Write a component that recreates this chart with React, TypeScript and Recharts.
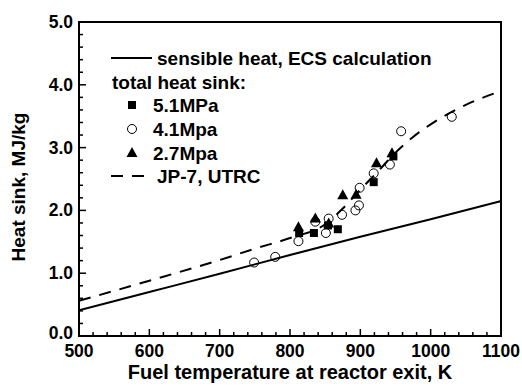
import { ComposedChart, Line, Scatter, XAxis, YAxis, ReferenceArea } from 'recharts'

// sensible heat, ECS calculation (solid)
const sensibleT = [500, 600, 700, 800, 900, 1000, 1100]
const sensibleQ = [0.41, 0.7, 0.99, 1.29, 1.58, 1.86, 2.15]

// JP-7, UTRC (dashed)
const jp7T = [500, 600, 700, 750, 800, 850, 875, 900, 925, 950, 975, 1000, 1050, 1100]
const jp7Q = [0.56, 0.88, 1.21, 1.39, 1.56, 1.78, 2.03, 2.33, 2.62, 2.92, 3.17, 3.37, 3.68, 3.9]

// total heat sink measurements
const p51T = [813, 834, 854, 868, 919, 947]
const p51Q = [1.64, 1.64, 1.76, 1.7, 2.45, 2.86]
const p41T = [749, 779, 812, 836, 851, 855, 874, 893, 898, 899, 919, 942, 958, 1030]
const p41Q = [1.17, 1.26, 1.51, 1.82, 1.64, 1.87, 1.93, 2.0, 2.08, 2.36, 2.59, 2.73, 3.26, 3.49]
const p27T = [812, 836, 855, 875, 894, 923, 945]
const p27Q = [1.73, 1.87, 1.79, 2.24, 2.25, 2.75, 2.91]

const xLabels = [500, 600, 700, 800, 900, 1000, 1100]
const xTicks = [500, 520, 540, 560, 580, 600, 620, 640, 660, 680, 700, 720, 740, 760, 780, 800, 820, 840, 860, 880, 900, 920, 940, 960, 980, 1000, 1020, 1040, 1060, 1080, 1100]
const yTicks = [0, 0.2, 0.4, 0.6, 0.8, 1, 1.2, 1.4, 1.6, 1.8, 2, 2.2, 2.4, 2.6, 2.8, 3, 3.2, 3.4, 3.6, 3.8, 4, 4.2, 4.4, 4.6, 4.8, 5]

const toPoints = (ts: number[], qs: number[]) => ts.map((t, i) => ({ t, q: qs[i] }))

const FONT = '"Liberation Sans", Arial, sans-serif'

function XTick(props: any) {
  const { x, y, payload } = props
  const major = xLabels.includes(payload.value)
  return (
    <g>
      <line x1={x} x2={x} y1={y} y2={y - (major ? 7 : 4)} stroke="#000" strokeWidth={1.5} />
      {major && (
        <text x={x} y={y + 21} textAnchor="middle" fontFamily={FONT} fontWeight="bold" fontSize={17.5} fill="#000">
          {payload.value}
        </text>
      )}
    </g>
  )
}

function YTick(props: any) {
  const { x, y, payload } = props
  const major = Math.abs(payload.value - Math.round(payload.value)) < 1e-6
  const dy = payload.value === 0 ? 3 : 6
  return (
    <g>
      <line x1={x} x2={x + (major ? 7 : 4)} y1={y} y2={y} stroke="#000" strokeWidth={1.5} />
      {major && (
        <text x={x - 6} y={y + dy} textAnchor="end" fontFamily={FONT} fontWeight="bold" fontSize={17.5} fill="#000">
          {Number(payload.value).toFixed(1)}
        </text>
      )}
    </g>
  )
}

const Square = ({ cx, cy }: any) => <rect x={cx - 4} y={cy - 4} width={8} height={8} fill="#000" />
const Circle = ({ cx, cy }: any) => <circle cx={cx} cy={cy} r={4.5} fill="none" stroke="#000" strokeWidth={1} />
const Triangle = ({ cx, cy }: any) => (
  <polygon points={`${cx},${cy - 6} ${cx - 5.5},${cy + 4} ${cx + 5.5},${cy + 4}`} fill="#000" />
)

function LegendBox() {
  const txt = { fontFamily: FONT, fontWeight: 'bold' as const, fontSize: 19, fill: '#000' }
  return (
    <svg width={522} height={389} style={{ position: 'absolute', left: 0, top: 0, pointerEvents: 'none' }}>
      <line x1={111} x2={152} y1={58} y2={58} stroke="#000" strokeWidth={2} />
      <text x={157} y={65} {...txt}>sensible heat, ECS calculation</text>
      <text x={112} y={89} {...txt}>total heat sink:</text>
      <Square cx={132} cy={105} />
      <text x={153} y={112} {...txt}>5.1MPa</text>
      <Circle cx={132} cy={129} />
      <text x={153} y={136} {...txt}>4.1Mpa</text>
      <Triangle cx={132} cy={153} />
      <text x={153} y={160} {...txt}>2.7Mpa</text>
      <line x1={111} x2={152} y1={176} y2={176} stroke="#000" strokeWidth={2} strokeDasharray="12 9" />
      <text x={157} y={183} {...txt}>JP-7, UTRC</text>
    </svg>
  )
}

export default function App() {
  return (
    <div style={{ position: 'absolute', left: 0, top: 0, width: 522, height: 389, background: '#fff' }}>
      <ComposedChart width={522} height={389} margin={{ top: 22, right: 21, bottom: 0, left: 0 }}>
        <XAxis
          type="number"
          dataKey="t"
          domain={[500, 1100]}
          ticks={xTicks}
          interval={0}
          height={53}
          tickSize={0}
          tickMargin={0}
          axisLine={{ stroke: '#000', strokeWidth: 2 }}
          tick={XTick}
          allowDataOverflow
        />
        <YAxis
          type="number"
          dataKey="q"
          domain={[0, 5]}
          ticks={yTicks}
          interval={0}
          width={79}
          tickSize={0}
          tickMargin={0}
          axisLine={{ stroke: '#000', strokeWidth: 2 }}
          tick={YTick}
          allowDataOverflow
        />
        <ReferenceArea x1={500} x2={1100} y1={0} y2={5} fill="none" stroke="#000" strokeWidth={2} />
        <Line data={toPoints(sensibleT, sensibleQ)} dataKey="q" type="monotone" stroke="#000" strokeWidth={2} dot={false} isAnimationActive={false} />
        <Line data={toPoints(jp7T, jp7Q)} dataKey="q" type="monotone" stroke="#000" strokeWidth={2} strokeDasharray="12 9" dot={false} isAnimationActive={false} />
        <Scatter data={toPoints(p51T, p51Q)} dataKey="q" shape={<Square />} isAnimationActive={false} />
        <Scatter data={toPoints(p41T, p41Q)} dataKey="q" shape={<Circle />} isAnimationActive={false} />
        <Scatter data={toPoints(p27T, p27Q)} dataKey="q" shape={<Triangle />} isAnimationActive={false} />
        <text x={290} y={379} textAnchor="middle" fontFamily={FONT} fontWeight="bold" fontSize={20} fill="#000">
          Fuel temperature at reactor exit, K
        </text>
        <text
          x={25}
          y={187}
          textAnchor="middle"
          transform="rotate(-90 25 187)"
          fontFamily={FONT}
          fontWeight="bold"
          fontSize={19}
          fill="#000"
        >
          Heat sink, MJ/kg
        </text>
      </ComposedChart>
      <LegendBox />
    </div>
  )
}
